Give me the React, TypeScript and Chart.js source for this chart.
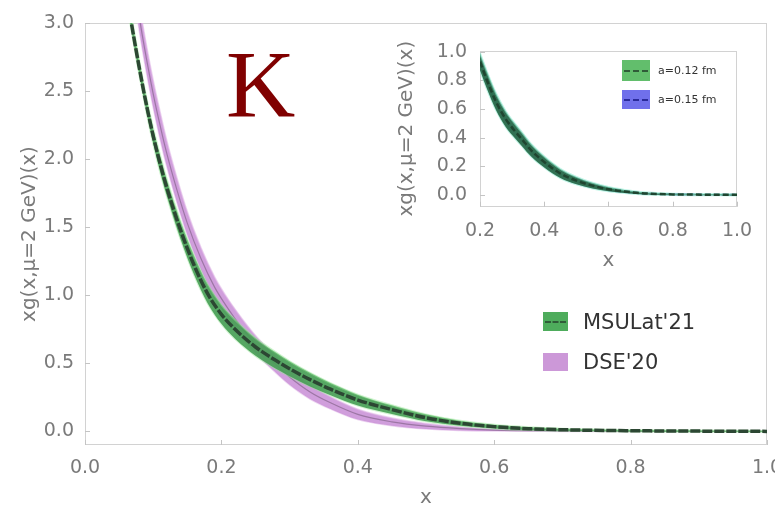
import React, { useEffect, useRef } from "react";
import { Chart, registerables } from "chart.js";

Chart.register(...registerables);

// ---- Main panel: kaon gluon distribution xg(x) at mu = 2 GeV ----
const msuX = [0.06, 0.068, 0.08, 0.09, 0.1, 0.11, 0.12, 0.14, 0.16, 0.18, 0.2, 0.22, 0.25, 0.28, 0.3, 0.33, 0.36, 0.4, 0.45, 0.5, 0.55, 0.6, 0.65, 0.7, 0.8, 0.9, 1.0];
const msuCentral = [3.25, 3.0, 2.66, 2.4, 2.17, 1.97, 1.79, 1.48, 1.22, 1.01, 0.86, 0.75, 0.62, 0.52, 0.46, 0.38, 0.31, 0.23, 0.16, 0.1, 0.06, 0.035, 0.02, 0.012, 0.005, 0.002, 0.0];
const msuLow = [3.2, 2.95, 2.61, 2.35, 2.115, 1.91, 1.73, 1.415, 1.15, 0.94, 0.79, 0.68, 0.555, 0.46, 0.405, 0.33, 0.265, 0.19, 0.128, 0.075, 0.042, 0.022, 0.01, 0.004, 0.0, -0.002, -0.003];
const msuHigh = [3.3, 3.05, 2.71, 2.45, 2.225, 2.03, 1.85, 1.545, 1.29, 1.08, 0.93, 0.82, 0.685, 0.58, 0.515, 0.43, 0.355, 0.27, 0.192, 0.125, 0.078, 0.048, 0.03, 0.02, 0.01, 0.006, 0.003];

const dseX = [0.072, 0.081, 0.09, 0.1, 0.11, 0.12, 0.135, 0.15, 0.17, 0.19, 0.21, 0.23, 0.25, 0.28, 0.3, 0.33, 0.36, 0.4, 0.45, 0.5, 0.55, 0.6, 0.7, 0.8, 1.0];
const dseCentral = [3.3, 3.0, 2.74, 2.48, 2.25, 2.04, 1.77, 1.53, 1.27, 1.06, 0.9, 0.76, 0.64, 0.49, 0.4, 0.29, 0.21, 0.125, 0.07, 0.038, 0.02, 0.01, 0.004, 0.001, 0.0];
const dseLow = [3.2, 2.9, 2.64, 2.38, 2.15, 1.945, 1.68, 1.445, 1.19, 0.985, 0.83, 0.69, 0.575, 0.43, 0.342, 0.238, 0.165, 0.087, 0.042, 0.018, 0.007, 0.002, 0.0, -0.001, -0.001];
const dseHigh = [3.4, 3.1, 2.84, 2.58, 2.35, 2.135, 1.86, 1.615, 1.35, 1.135, 0.97, 0.83, 0.705, 0.55, 0.458, 0.342, 0.255, 0.163, 0.098, 0.058, 0.033, 0.018, 0.008, 0.003, 0.001];

const mainXTicks = [0, 0.2, 0.4, 0.6, 0.8, 1.0];
const mainYTicks = [0, 0.5, 1.0, 1.5, 2.0, 2.5, 3.0];

// ---- Inset: lattice spacings ----
const insetX = [0.2, 0.22, 0.25, 0.28, 0.3, 0.33, 0.36, 0.4, 0.45, 0.5, 0.55, 0.6, 0.65, 0.7, 0.75, 0.8, 0.9, 1.0];
const a12Central = [0.93, 0.81, 0.65, 0.53, 0.47, 0.39, 0.31, 0.23, 0.15, 0.1, 0.065, 0.04, 0.024, 0.013, 0.007, 0.004, 0.002, 0.001];
const a12Low = [0.87, 0.75, 0.592, 0.475, 0.418, 0.342, 0.266, 0.192, 0.118, 0.074, 0.045, 0.025, 0.013, 0.005, 0.001, -0.001, -0.002, -0.003];
const a12High = [0.99, 0.87, 0.708, 0.585, 0.522, 0.438, 0.354, 0.268, 0.182, 0.126, 0.085, 0.055, 0.035, 0.021, 0.013, 0.009, 0.006, 0.005];
const a15Central = [0.92, 0.8, 0.64, 0.525, 0.465, 0.385, 0.305, 0.225, 0.147, 0.098, 0.063, 0.039, 0.023, 0.012, 0.007, 0.004, 0.002, 0.001];
const a15Low = [0.875, 0.757, 0.6, 0.482, 0.424, 0.348, 0.272, 0.196, 0.122, 0.076, 0.046, 0.026, 0.014, 0.005, 0.001, -0.001, -0.002, -0.002];
const a15High = [0.975, 0.855, 0.69, 0.57, 0.51, 0.425, 0.342, 0.258, 0.175, 0.122, 0.082, 0.052, 0.033, 0.019, 0.013, 0.009, 0.006, 0.004];

const insetXTicks = [0.2, 0.4, 0.6, 0.8, 1.0];
const insetYTicks = [0, 0.2, 0.4, 0.6, 0.8, 1.0];

const AXIS_TITLE = "xg(x,\u03bc=2 GeV)(x)";
const FONT = "'DejaVu Sans', sans-serif";
const TICK_COLOR = "#7a7a7a";

const pts = (xs: number[], ys: number[]) => xs.map((x, i) => ({ x, y: ys[i] }));

const curve = (xs: number[], ys: number[], extra: any) => ({
  data: pts(xs, ys),
  pointRadius: 0,
  borderWidth: 0,
  borderColor: "transparent",
  fill: false,
  cubicInterpolationMode: "monotone",
  ...extra,
});

// Light frame around the plot area with short inward ticks
const framePlugin = {
  id: "frame",
  beforeDatasetsDraw(chart: any) {
    const { ctx, chartArea: a } = chart;
    const xs = chart.scales.x;
    const ys = chart.scales.y;
    ctx.save();
    ctx.lineWidth = 1;
    ctx.strokeStyle = "#d2d2d2";
    ctx.strokeRect(Math.round(a.left) + 0.5, Math.round(a.top) + 0.5, Math.round(a.right - a.left) - 1, Math.round(a.bottom - a.top) - 1);
    ctx.strokeStyle = "#c4c4c4";
    ctx.beginPath();
    xs.ticks.forEach((t: any) => {
      const p = Math.round(xs.getPixelForValue(t.value)) + 0.5;
      ctx.moveTo(p, a.bottom);
      ctx.lineTo(p, a.bottom - 5);
    });
    ys.ticks.forEach((t: any) => {
      const p = Math.round(ys.getPixelForValue(t.value)) + 0.5;
      ctx.moveTo(a.left, p);
      ctx.lineTo(a.left + 5, p);
    });
    ctx.stroke();
    ctx.restore();
  },
};

function axes(o: {
  xMin: number; xMax: number; yMin: number; yMax: number;
  xTicks: number[]; yTicks: number[];
  yWidth: number; xHeight: number;
  tickSize: number; xPad: number; yPad: number;
  titleSize: number; xTitlePad: number; yTitlePad: number;
}) {
  const tickFont = { family: FONT, size: o.tickSize };
  const titleFont = { family: FONT, size: o.titleSize };
  return {
    x: {
      type: "linear",
      min: o.xMin,
      max: o.xMax,
      afterBuildTicks: (s: any) => { s.ticks = o.xTicks.map((v) => ({ value: v })); },
      afterFit: (s: any) => { s.height = o.xHeight; s.paddingLeft = 0; s.paddingRight = 0; },
      grid: { display: false },
      border: { display: false },
      ticks: { font: tickFont, color: TICK_COLOR, padding: o.xPad, maxRotation: 0, autoSkip: false, callback: (v: any) => Number(v).toFixed(1) },
      title: { display: true, text: "x", font: titleFont, color: TICK_COLOR, padding: { top: 0, bottom: o.xTitlePad } },
    },
    y: {
      type: "linear",
      min: o.yMin,
      max: o.yMax,
      afterBuildTicks: (s: any) => { s.ticks = o.yTicks.map((v) => ({ value: v })); },
      afterFit: (s: any) => { s.width = o.yWidth; s.paddingTop = 0; s.paddingBottom = 0; },
      grid: { display: false },
      border: { display: false },
      ticks: { font: tickFont, color: TICK_COLOR, padding: o.yPad, autoSkip: false, callback: (v: any) => Number(v).toFixed(1) },
      title: { display: true, text: AXIS_TITLE, font: titleFont, color: TICK_COLOR, padding: { top: o.yTitlePad, bottom: 0 } },
    },
  };
}

function mainConfig(): any {
  return {
    type: "line",
    data: {
      datasets: [
        curve(dseX, dseLow, { label: "DSE'20 low", order: 5, borderColor: "rgba(225,185,232,0.6)", borderWidth: 1.5 }),
        curve(dseX, dseHigh, { label: "DSE'20 high", order: 4, fill: 0, backgroundColor: "rgba(203,148,216,0.9)", borderColor: "rgba(225,185,232,0.6)", borderWidth: 1.5 }),
        curve(dseX, dseCentral, { label: "DSE'20", order: 3, borderColor: "rgba(105,80,110,0.5)", borderWidth: 1.2 }),
        curve(msuX, msuLow, { label: "MSULat'21 low", order: 2, borderColor: "rgba(150,230,150,0.45)", borderWidth: 2 }),
        curve(msuX, msuHigh, { label: "MSULat'21 high", order: 1, fill: 3, backgroundColor: "rgba(72,160,86,0.92)", borderColor: "rgba(150,230,150,0.45)", borderWidth: 2 }),
        curve(msuX, msuCentral, { label: "MSULat'21", order: 0, borderColor: "#2c4733", borderWidth: 3.5, borderDash: [10, 2] }),
      ],
    },
    options: {
      responsive: false,
      animation: false,
      devicePixelRatio: 1,
      layout: { padding: { left: 0, right: 8, top: 23, bottom: 0 } },
      plugins: { legend: { display: false }, tooltip: { enabled: false } },
      scales: axes({
        xMin: 0, xMax: 1, yMin: -0.1, yMax: 3,
        xTicks: mainXTicks, yTicks: mainYTicks,
        yWidth: 85, xHeight: 62,
        tickSize: 19, xPad: 4, yPad: 3,
        titleSize: 20, xTitlePad: -3, yTitlePad: 18,
      }),
    },
    plugins: [framePlugin],
  };
}

function insetConfig(): any {
  return {
    type: "line",
    data: {
      datasets: [
        curve(insetX, a15Low, { label: "a=0.15 fm low", order: 5 }),
        curve(insetX, a15High, { label: "a=0.15 fm high", order: 4, fill: 0, backgroundColor: "rgba(95,95,230,0.85)" }),
        curve(insetX, a15Central, { label: "a=0.15 fm", order: 3, borderColor: "#2a2a8a", borderWidth: 2, borderDash: [5, 3] }),
        curve(insetX, a12Low, { label: "a=0.12 fm low", order: 2, borderColor: "rgba(140,235,210,0.55)", borderWidth: 2 }),
        curve(insetX, a12High, { label: "a=0.12 fm high", order: 1, fill: 3, backgroundColor: "rgba(45,112,75,0.95)", borderColor: "rgba(140,235,210,0.55)", borderWidth: 2 }),
        curve(insetX, a12Central, { label: "a=0.12 fm", order: 0, borderColor: "#1f4530", borderWidth: 2.5, borderDash: [6, 3] }),
      ],
    },
    options: {
      responsive: false,
      animation: false,
      devicePixelRatio: 1,
      layout: { padding: { left: 0, right: 28, top: 25.7, bottom: 0 } },
      plugins: { legend: { display: false }, tooltip: { enabled: false } },
      scales: axes({
        xMin: 0.2, xMax: 1.0, yMin: -0.082, yMax: 1.007,
        xTicks: insetXTicks, yTicks: insetYTicks,
        yWidth: 85, xHeight: 68.3,
        tickSize: 19, xPad: 5, yPad: 5,
        titleSize: 20, xTitlePad: 2, yTitlePad: 0,
      }),
    },
    plugins: [framePlugin],
  };
}

const legendText = (top: number, left: number, size: number, lh: number): React.CSSProperties => ({
  position: "absolute",
  left,
  top,
  fontFamily: FONT,
  fontSize: size,
  lineHeight: `${lh}px`,
  color: "#333",
  whiteSpace: "nowrap",
});

function Swatch(props: { left: number; top: number; w: number; h: number; fill: string; dash?: string }) {
  const { left, top, w, h, fill, dash } = props;
  return (
    <div style={{ position: "absolute", left, top, width: w, height: h, background: fill }}>
      {dash ? (
        <div style={{ position: "absolute", left: 2, right: 2, top: h / 2 - 1, borderTop: `2px dashed ${dash}` }} />
      ) : null}
    </div>
  );
}

export default function App() {
  const mainRef = useRef<HTMLCanvasElement>(null);
  const insetRef = useRef<HTMLCanvasElement>(null);

  useEffect(() => {
    const main = new Chart(mainRef.current as HTMLCanvasElement, mainConfig());
    const inset = new Chart(insetRef.current as HTMLCanvasElement, insetConfig());
    return () => {
      main.destroy();
      inset.destroy();
    };
  }, []);

  return (
    <div style={{ position: "fixed", left: 0, top: 0, width: 775, height: 507, overflow: "hidden", background: "#fff" }}>
      <canvas ref={mainRef} width={775} height={507} style={{ position: "absolute", left: 0, top: 0 }} />
      <canvas ref={insetRef} width={370} height={250} style={{ position: "absolute", left: 395, top: 25 }} />

      <div
        style={{
          position: "absolute",
          left: 226,
          top: 37,
          fontFamily: "'Liberation Serif', 'Times New Roman', serif",
          fontSize: 96,
          lineHeight: "96px",
          color: "#800000",
        }}
      >
        K
      </div>

      <Swatch left={543} top={312} w={25} h={19} fill="rgb(78,172,92)" dash="#2f5c38" />
      <div style={legendText(310, 583, 21, 24)}>MSULat'21</div>
      <Swatch left={543} top={353} w={25} h={18} fill="rgb(204,152,216)" />
      <div style={legendText(350, 583, 21, 24)}>DSE'20</div>

      <Swatch left={622} top={60} w={28} h={21} fill="rgb(98,190,108)" dash="#2f5c38" />
      <div style={legendText(64, 658, 11, 14)}>a=0.12 fm</div>
      <Swatch left={622} top={90} w={28} h={19} fill="rgb(112,112,235)" dash="#2a2a9a" />
      <div style={legendText(93, 658, 11, 14)}>a=0.15 fm</div>
    </div>
  );
}
